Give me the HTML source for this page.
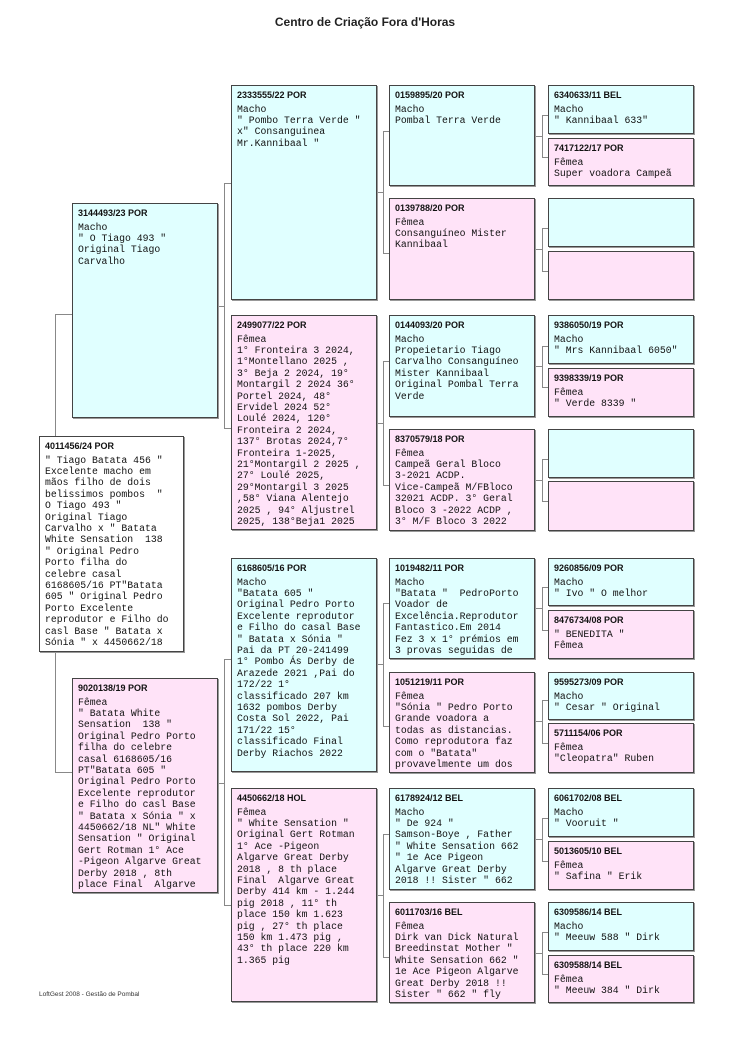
<!DOCTYPE html>
<html><head><meta charset="utf-8">
<style>
body{margin:0;background:#fff;width:750px;height:1061px;position:relative;overflow:hidden}
.t{position:absolute;left:0;width:750px;top:15px;text-align:center;font:bold 12px "Liberation Sans",sans-serif;color:#222}
.b{position:absolute;border:1px solid #444;box-shadow:1px 1px 0 #999;overflow:hidden;padding:3px 5px 0 5px;box-sizing:border-box}
.c{background:#e0ffff}.p{background:#ffe3f8}.w{background:#fff}
.h{font:bold 9px "Liberation Sans",sans-serif;line-height:13px;color:#111}
.x{font:9.8px "Liberation Mono",monospace;line-height:11.4px;white-space:pre;color:#111;margin-top:1.5px}
.l{position:absolute;background:#888}
.f{position:absolute;left:39px;top:991px;font:6.5px "Liberation Sans",sans-serif;color:#333}
</style></head><body>
<div class="t" style="left:-10px">Centro de Criação Fora d'Horas</div>

<div class="l" style="left:55px;top:314px;width:1px;height:122px"></div>
<div class="l" style="left:55px;top:314px;width:17px;height:1px"></div>
<div class="l" style="left:55px;top:651px;width:1px;height:122px"></div>
<div class="l" style="left:55px;top:772px;width:17px;height:1px"></div>
<div class="l" style="left:217px;top:306px;width:7px;height:1px"></div>
<div class="l" style="left:224px;top:183px;width:1px;height:246px"></div>
<div class="l" style="left:224px;top:183px;width:7px;height:1px"></div>
<div class="l" style="left:224px;top:428px;width:7px;height:1px"></div>
<div class="l" style="left:217px;top:783px;width:7px;height:1px"></div>
<div class="l" style="left:224px;top:659px;width:1px;height:247px"></div>
<div class="l" style="left:224px;top:659px;width:7px;height:1px"></div>
<div class="l" style="left:224px;top:905px;width:7px;height:1px"></div>
<div class="l" style="left:376px;top:192px;width:7px;height:1px"></div>
<div class="l" style="left:383px;top:131px;width:1px;height:123px"></div>
<div class="l" style="left:383px;top:131px;width:6px;height:1px"></div>
<div class="l" style="left:383px;top:253px;width:6px;height:1px"></div>
<div class="l" style="left:376px;top:423px;width:7px;height:1px"></div>
<div class="l" style="left:383px;top:361px;width:1px;height:125px"></div>
<div class="l" style="left:383px;top:361px;width:6px;height:1px"></div>
<div class="l" style="left:383px;top:485px;width:6px;height:1px"></div>
<div class="l" style="left:376px;top:664px;width:7px;height:1px"></div>
<div class="l" style="left:383px;top:603px;width:1px;height:124px"></div>
<div class="l" style="left:383px;top:603px;width:6px;height:1px"></div>
<div class="l" style="left:383px;top:726px;width:6px;height:1px"></div>
<div class="l" style="left:376px;top:895px;width:7px;height:1px"></div>
<div class="l" style="left:383px;top:834px;width:1px;height:124px"></div>
<div class="l" style="left:383px;top:834px;width:6px;height:1px"></div>
<div class="l" style="left:383px;top:957px;width:6px;height:1px"></div>
<div class="l" style="left:535px;top:136px;width:7px;height:1px"></div>
<div class="l" style="left:542px;top:115px;width:1px;height:43px"></div>
<div class="l" style="left:542px;top:115px;width:6px;height:1px"></div>
<div class="l" style="left:542px;top:157px;width:6px;height:1px"></div>
<div class="l" style="left:535px;top:249px;width:7px;height:1px"></div>
<div class="l" style="left:542px;top:228px;width:1px;height:44px"></div>
<div class="l" style="left:542px;top:228px;width:6px;height:1px"></div>
<div class="l" style="left:542px;top:271px;width:6px;height:1px"></div>
<div class="l" style="left:535px;top:366px;width:7px;height:1px"></div>
<div class="l" style="left:542px;top:346px;width:1px;height:42px"></div>
<div class="l" style="left:542px;top:346px;width:6px;height:1px"></div>
<div class="l" style="left:542px;top:387px;width:6px;height:1px"></div>
<div class="l" style="left:535px;top:480px;width:7px;height:1px"></div>
<div class="l" style="left:542px;top:459px;width:1px;height:43px"></div>
<div class="l" style="left:542px;top:459px;width:6px;height:1px"></div>
<div class="l" style="left:542px;top:501px;width:6px;height:1px"></div>
<div class="l" style="left:535px;top:608px;width:7px;height:1px"></div>
<div class="l" style="left:542px;top:587px;width:1px;height:44px"></div>
<div class="l" style="left:542px;top:587px;width:6px;height:1px"></div>
<div class="l" style="left:542px;top:630px;width:6px;height:1px"></div>
<div class="l" style="left:535px;top:721px;width:7px;height:1px"></div>
<div class="l" style="left:542px;top:700px;width:1px;height:44px"></div>
<div class="l" style="left:542px;top:700px;width:6px;height:1px"></div>
<div class="l" style="left:542px;top:743px;width:6px;height:1px"></div>
<div class="l" style="left:535px;top:839px;width:7px;height:1px"></div>
<div class="l" style="left:542px;top:818px;width:1px;height:44px"></div>
<div class="l" style="left:542px;top:818px;width:6px;height:1px"></div>
<div class="l" style="left:542px;top:861px;width:6px;height:1px"></div>
<div class="l" style="left:535px;top:953px;width:7px;height:1px"></div>
<div class="l" style="left:542px;top:932px;width:1px;height:43px"></div>
<div class="l" style="left:542px;top:932px;width:6px;height:1px"></div>
<div class="l" style="left:542px;top:974px;width:6px;height:1px"></div>

<div class="b w" style="left:39px;top:436px;width:145px;height:216px"><div class="h">4011456/24 POR</div><div class="x">" Tiago Batata 456 "
Excelente macho em
mãos filho de dois
belissimos pombos  "
O Tiago 493 "
Original Tiago
Carvalho x " Batata
White Sensation  138
" Original Pedro
Porto filha do
celebre casal
6168605/16 PT"Batata
605 " Original Pedro
Porto Excelente
reprodutor e Filho do
casl Base " Batata x
Sónia " x 4450662/18</div></div>

<div class="b c" style="left:72px;top:203px;width:146px;height:215px"><div class="h">3144493/23 POR</div><div class="x">Macho
" O Tiago 493 "
Original Tiago
Carvalho</div></div>
<div class="b p" style="left:72px;top:678px;width:146px;height:215px"><div class="h">9020138/19 POR</div><div class="x">Fêmea
" Batata White
Sensation  138 "
Original Pedro Porto
filha do celebre
casal 6168605/16
PT"Batata 605 "
Original Pedro Porto
Excelente reprodutor
e Filho do casl Base
" Batata x Sónia " x
4450662/18 NL" White
Sensation " Original
Gert Rotman 1° Ace
-Pigeon Algarve Great
Derby 2018 , 8th
place Final  Algarve</div></div>

<div class="b c" style="left:231px;top:85px;width:146px;height:215px"><div class="h">2333555/22 POR</div><div class="x">Macho
" Pombo Terra Verde "
x" Consanguinea
Mr.Kannibaal "</div></div>
<div class="b p" style="left:231px;top:315px;width:146px;height:215px"><div class="h">2499077/22 POR</div><div class="x">Fêmea
1° Fronteira 3 2024,
1°Montellano 2025 ,
3° Beja 2 2024, 19°
Montargil 2 2024 36°
Portel 2024, 48°
Ervidel 2024 52°
Loulé 2024, 120°
Fronteira 2 2024,
137° Brotas 2024,7°
Fronteira 1-2025,
21°Montargil 2 2025 ,
27° Loulé 2025,
29°Montargil 3 2025
,58° Viana Alentejo
2025 , 94° Aljustrel
2025, 138°Beja1 2025</div></div>
<div class="b c" style="left:231px;top:558px;width:146px;height:214px"><div class="h">6168605/16 POR</div><div class="x">Macho
"Batata 605 "
Original Pedro Porto
Excelente reprodutor
e Filho do casal Base
" Batata x Sónia "
Pai da PT 20-241499
1° Pombo Ás Derby de
Arazede 2021 ,Pai do
172/22 1°
classificado 207 km
1632 pombos Derby
Costa Sol 2022, Pai
171/22 15°
classificado Final
Derby Riachos 2022</div></div>
<div class="b p" style="left:231px;top:788px;width:146px;height:214px"><div class="h">4450662/18 HOL</div><div class="x">Fêmea
" White Sensation "
Original Gert Rotman
1° Ace -Pigeon
Algarve Great Derby
2018 , 8 th place
Final  Algarve Great
Derby 414 km - 1.244
pig 2018 , 11° th
place 150 km 1.623
pig , 27° th place
150 km 1.473 pig ,
43° th place 220 km
1.365 pig</div></div>

<div class="b c" style="left:389px;top:85px;width:146px;height:101px"><div class="h">0159895/20 POR</div><div class="x">Macho
Pombal Terra Verde</div></div>
<div class="b p" style="left:389px;top:198px;width:146px;height:102px"><div class="h">0139788/20 POR</div><div class="x">Fêmea
Consanguíneo Mister
Kannibaal</div></div>
<div class="b c" style="left:389px;top:315px;width:146px;height:102px"><div class="h">0144093/20 POR</div><div class="x">Macho
Propeietario Tiago
Carvalho Consanguíneo
Mister Kannibaal
Original Pombal Terra
Verde</div></div>
<div class="b p" style="left:389px;top:429px;width:146px;height:102px"><div class="h">8370579/18 POR</div><div class="x">Fêmea
Campeã Geral Bloco
3-2021 ACDP.
Vice-Campeã M/FBloco
32021 ACDP. 3° Geral
Bloco 3 -2022 ACDP ,
3° M/F Bloco 3 2022</div></div>
<div class="b c" style="left:389px;top:558px;width:146px;height:101px"><div class="h">1019482/11 POR</div><div class="x">Macho
"Batata "  PedroPorto
Voador de
Excelência.Reprodutor
Fantastico.Em 2014
Fez 3 x 1° prémios em
3 provas seguidas de</div></div>
<div class="b p" style="left:389px;top:672px;width:146px;height:101px"><div class="h">1051219/11 POR</div><div class="x">Fêmea
"Sónia " Pedro Porto
Grande voadora a
todas as distancias.
Como reprodutora faz
com o "Batata"
provavelmente um dos</div></div>
<div class="b c" style="left:389px;top:788px;width:146px;height:102px"><div class="h">6178924/12 BEL</div><div class="x">Macho
" De 924 "
Samson-Boye , Father
" White Sensation 662
" 1e Ace Pigeon
Algarve Great Derby
2018 !! Sister " 662</div></div>
<div class="b p" style="left:389px;top:902px;width:146px;height:101px"><div class="h">6011703/16 BEL</div><div class="x">Fêmea
Dirk van Dick Natural
Breedinstat Mother "
White Sensation 662 "
1e Ace Pigeon Algarve
Great Derby 2018 !!
Sister " 662 " fly</div></div>

<div class="b c" style="left:548px;top:85px;width:146px;height:49px"><div class="h">6340633/11 BEL</div><div class="x">Macho
" Kannibaal 633"</div></div>
<div class="b p" style="left:548px;top:138px;width:146px;height:48px"><div class="h">7417122/17 POR</div><div class="x">Fêmea
Super voadora Campeã</div></div>
<div class="b c" style="left:548px;top:198px;width:146px;height:49px"></div>
<div class="b p" style="left:548px;top:251px;width:146px;height:49px"></div>
<div class="b c" style="left:548px;top:315px;width:146px;height:49px"><div class="h">9386050/19 POR</div><div class="x">Macho
" Mrs Kannibaal 6050"</div></div>
<div class="b p" style="left:548px;top:368px;width:146px;height:49px"><div class="h">9398339/19 POR</div><div class="x">Fêmea
" Verde 8339 "</div></div>
<div class="b c" style="left:548px;top:429px;width:146px;height:49px"></div>
<div class="b p" style="left:548px;top:481px;width:146px;height:50px"></div>
<div class="b c" style="left:548px;top:558px;width:146px;height:48px"><div class="h">9260856/09 POR</div><div class="x">Macho
" Ivo " O melhor</div></div>
<div class="b p" style="left:548px;top:610px;width:146px;height:49px"><div class="h">8476734/08 POR</div><div class="x">" BENEDITA "
Fêmea</div></div>
<div class="b c" style="left:548px;top:672px;width:146px;height:48px"><div class="h">9595273/09 POR</div><div class="x">Macho
" Cesar " Original</div></div>
<div class="b p" style="left:548px;top:723px;width:146px;height:50px"><div class="h">5711154/06 POR</div><div class="x">Fêmea
"Cleopatra" Ruben</div></div>
<div class="b c" style="left:548px;top:788px;width:146px;height:49px"><div class="h">6061702/08 BEL</div><div class="x">Macho
" Vooruit "</div></div>
<div class="b p" style="left:548px;top:841px;width:146px;height:49px"><div class="h">5013605/10 BEL</div><div class="x">Fêmea
" Safina " Erik</div></div>
<div class="b c" style="left:548px;top:902px;width:146px;height:49px"><div class="h">6309586/14 BEL</div><div class="x">Macho
" Meeuw 588 " Dirk</div></div>
<div class="b p" style="left:548px;top:955px;width:146px;height:48px"><div class="h">6309588/14 BEL</div><div class="x">Fêmea
" Meeuw 384 " Dirk</div></div>

<div class="f">LoftGest 2008 - Gestão de Pombal</div>
</body></html>
